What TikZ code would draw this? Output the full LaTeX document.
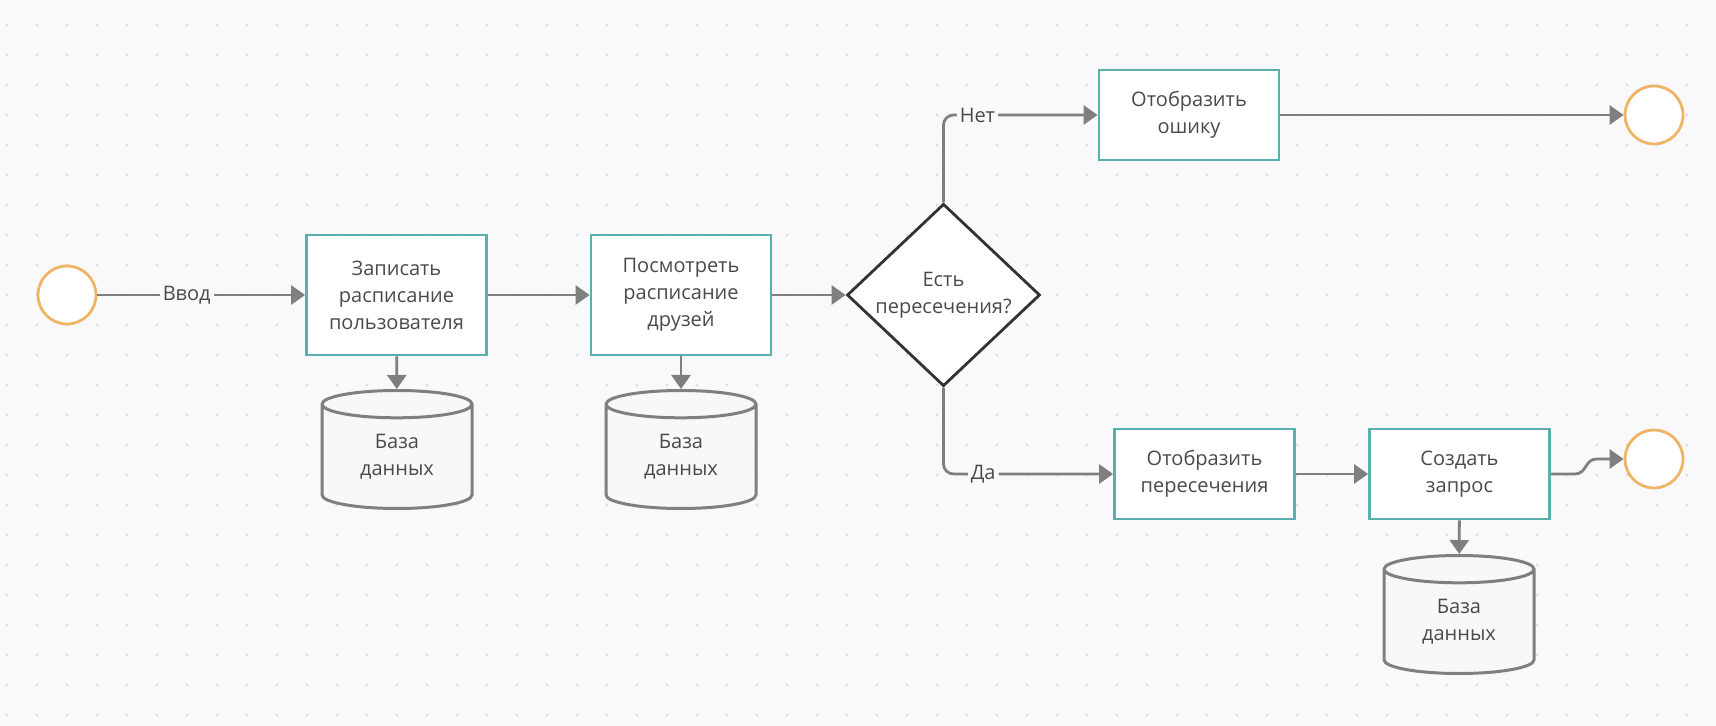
\documentclass[tikz,border=0pt]{standalone}
\usepackage{fontspec}
\setmainfont{Open Sans}
\usetikzlibrary{arrows.meta, positioning, shapes.geometric}
\definecolor{canvas}{HTML}{F9F9FB}
\definecolor{griddot}{HTML}{DEDEE3}
\definecolor{tealline}{HTML}{5AAFAF}
\definecolor{eventline}{HTML}{F0B466}
\definecolor{flowgray}{HTML}{7F7F7F}
\definecolor{textgray}{HTML}{4A4A4A}
\definecolor{dbfill}{HTML}{F8F8F8}
\tikzset{
    event/.style = {
      circle, draw=eventline, line width=1.4pt, fill=white,
      minimum size=29pt, inner sep=0,
    },
    task/.style = {
      rectangle, draw=tealline, line width=1.4pt, fill=white,
      minimum width=90pt, minimum height=60pt, inner sep=0,
      align=center, text=textgray,
    },
    small task/.style = {
      task, minimum height=45pt,
    },
    decision/.style = {
      diamond, draw=black!80, line width=1.4pt, fill=white,
      minimum width=96.5pt, minimum height=88.5pt, inner sep=0,
      align=center, text=textgray,
    },
    database/.style = {
      cylinder, shape border rotate=90, aspect=0.37, anchor=north,
      draw=flowgray, line width=1.5pt, fill=dbfill,
      minimum width=75pt, minimum height=59pt, inner sep=0,
      align=center, text=textgray,
    },
    flow/.style = {
      line width=1.4pt, flowgray, arrows={-Triangle[length=7pt, width=9.5pt]},
    },
    flow label/.style = {
      fill=canvas, inner sep=1.5pt, text=textgray,
    },
}

\begin{document}
\begin{tikzpicture}[x=0.5pt, y=-0.5pt, font=\fontsize{10pt}{13.5pt}\selectfont]
    %% Canvas with its dotted grid
    \useasboundingbox [fill=canvas] (0,0) rectangle (1716,726);
    \foreach \gx in {7,37,...,1716}{%
      \foreach \gy in {25,55,...,726}{%
        \fill [griddot] (\gx,\gy) circle (0.8pt);
      }
    }

    %% Main row
    \node [event] (start) at (67,295) {};
    \node [task] (record) at (396.5,295) {Записать\\расписание\\пользователя};
    \node [task] (view) at (681,295) {Посмотреть\\расписание\\друзей};
    \node [decision] (check) at (943.5,295) {Есть\\пересечения?};

    %% Branches
    \node [small task] (error) at (1189,115) {Отобразить\\ошику};
    \node [event] (end error) at (1654,115) {};
    \node [small task] (show) at (1204.5,474) {Отобразить\\пересечения};
    \node [small task] (request) at (1459.5,474) {Создать\\запрос};
    \node [event] (end request) at (1654,459) {};

    %% Storages
    \node [database] (db record) at (397,389) {База\\данных};
    \node [database] (db view) at (681,389) {База\\данных};
    \node [database] (db request) at (1459,554) {База\\данных};

    %% Connectors
    \draw [flow] (start) -- (record) node [pos=0.43, flow label] {Ввод};
    \draw [flow] (record) -- (view);
    \draw [flow] (view) -- (check);
    \draw [flow, rounded corners=5pt] (check.north) |- (error.west)
      node [pos=0.61, flow label] {Нет};
    \draw [flow, rounded corners=5pt] (check.south) |- (show.west)
      node [pos=0.617, flow label] {Да};
    \draw [flow] (error) -- (end error);
    \draw [flow] (show) -- (request);
    \draw [flow] (request.east) -- ++(24,0)
      .. controls +(12,0) and +(-12,0) .. ([xshift=-13.5pt] end request.west)
      -- (end request.west);
    \draw [flow] (record) -- (db record);
    \draw [flow] (view) -- (db view);
    \draw [flow] (request) -- (db request);
  \end{tikzpicture}
\end{document}
